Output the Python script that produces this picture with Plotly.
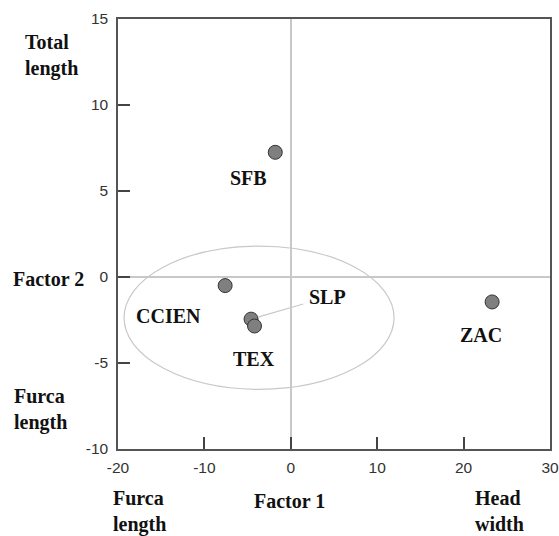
import plotly.graph_objects as go

# ---- data ----
groups = ["SFB", "CCIEN", "SLP", "TEX", "ZAC"]
factor1 = [-1.8, -7.6, -4.6, -4.2, 23.3]
factor2 = [7.25, -0.5, -2.45, -2.85, -1.45]
x_ticks = [-20, -10, 0, 10, 20, 30]
y_ticks = [-10, -5, 0, 5, 10, 15]

# ---- styling ----
SERIF = "Liberation Serif, Times New Roman, serif"
SANS = "Liberation Sans, Arial, sans-serif"
LABEL_FONT = dict(family=SERIF, size=20, color="#111")
label_offsets = {"SFB": (-27, -26), "CCIEN": (-57, -30), "TEX": (-1, -33), "ZAC": (-11, -33)}

fig = go.Figure()
fig.add_trace(go.Scatter(
    x=factor1, y=factor2, mode="markers",
    marker=dict(size=14, color="#7f7f7f", line=dict(color="#333", width=1)),
    hoverinfo="text", text=groups, showlegend=False,
))

# ellipse around the cluster
fig.add_shape(type="circle", xref="x", yref="y", x0=-19.3, x1=11.95, y0=-6.53, y1=1.8,
              line=dict(color="#c8c8c8", width=1.2), layer="below")

annotations = []
for g, xv, yv in zip(groups, factor1, factor2):
    if g == "SLP":
        annotations.append(dict(x=xv, y=yv, xref="x", yref="y", text="<b>SLP</b>",
                                showarrow=True, arrowhead=0, ax=76, ay=-22,
                                arrowcolor="#c8c8c8", arrowwidth=1.2, standoff=8,
                                startstandoff=4, font=LABEL_FONT))
    else:
        dx, dy = label_offsets[g]
        annotations.append(dict(x=xv, y=yv, xref="x", yref="y", text=f"<b>{g}</b>",
                                showarrow=False, xshift=dx, yshift=dy, font=LABEL_FONT))

outer = [
    ("Total<br>length", -0.155, 0.914),
    ("Factor 2", -0.162, 0.395),
    ("Furca<br>length", -0.18, 0.093),
    ("Furca<br>length", 0.05, -0.145),
    ("Factor 1", 0.396, -0.12),
    ("Head<br>width", 0.883, -0.145),
]
for t, px, py in outer:
    annotations.append(dict(x=px, y=py, xref="paper", yref="paper", text=f"<b>{t}</b>",
                            showarrow=False, align="left", font=LABEL_FONT,
                            xanchor="center", yanchor="middle"))

axis_common = dict(
    showgrid=False, ticks="inside", ticklen=12, tickwidth=1.5, tickcolor="#444",
    showline=True, linecolor="#555", linewidth=1.5, mirror=True,
    zeroline=True, zerolinecolor="#c8c8c8", zerolinewidth=1.5,
    tickfont=dict(family=SANS, size=15.5, color="#333"), automargin=False,
)
fig.update_xaxes(range=[-20, 30], tickvals=x_ticks, ticktext=[str(v) for v in x_ticks],
                 ticklabelstandoff=4, **axis_common)
fig.update_yaxes(range=[-10, 15], tickvals=y_ticks, ticktext=[str(v) for v in y_ticks],
                 ticklabelstandoff=5, **axis_common)

fig.update_layout(
    width=559, height=536,
    margin=dict(l=118, r=9, t=19, b=87, autoexpand=False),
    paper_bgcolor="white", plot_bgcolor="white",
    annotations=annotations,
)

fig.write_html("out.html", config={"displayModeBar": False},
               post_script="document.body.style.margin='0';document.body.style.padding='0';")
